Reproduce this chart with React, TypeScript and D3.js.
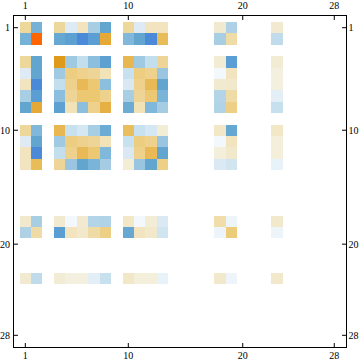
import React from "react";
import * as d3 from "d3";

// Active row/column indices of the 28x28 matrix
const indices = [1, 2, 4, 5, 6, 7, 8, 10, 11, 12, 13, 18, 19, 23];

// Matrix values (rows follow `indices`, columns follow `indices`)
const row1 = [0.4, -0.7, 0.4, -0.15, 0.25, -0.48, -0.8, 0.4, -0.15, 0.25, 0.25, 0.18, -0.44, 0.18];
const row2 = [-0.7, 1.0, -0.78, -0.83, -1.0, -0.85, 0.85, -0.65, -0.8, -1.0, 0.68, -0.48, 0.35, -0.32];
const row4 = [0.4, -0.8, 0.95, -0.52, -0.3, -0.6, -0.83, 0.72, -0.52, -0.3, 0.42, 0.16, -0.85, 0.16];
const row5 = [-0.15, -0.8, -0.52, 0.52, 0.47, 0.42, 0.27, -0.27, 0.52, 0.47, -0.55, -0.07, 0.25, 0.1];
const row6 = [0.25, -1.0, -0.3, 0.47, 0.7, 0.58, -0.6, -0.18, 0.47, 0.7, -0.8, 0.18, 0.2, 0.1];
const row7 = [-0.48, -0.85, -0.6, 0.42, 0.58, 0.58, 0.47, -0.48, 0.42, 0.58, -0.68, -0.4, 0.35, -0.13];
const row8 = [-0.8, 0.85, -0.83, 0.27, -0.6, 0.47, 0.78, -0.75, 0.27, -0.65, -0.5, -0.42, 0.5, -0.28];
const row10 = [0.4, -0.65, 0.72, -0.27, -0.2, -0.48, -0.75, 0.66, -0.27, -0.2, 0.15, 0.22, -0.78, 0.22];
const row11 = [-0.15, -0.8, -0.52, 0.52, 0.47, 0.42, 0.27, -0.27, 0.52, 0.47, -0.55, -0.07, 0.25, 0.12];
const row12 = [0.25, -1.0, -0.3, 0.47, 0.7, 0.58, -0.65, -0.18, 0.47, 0.7, -0.8, 0.12, 0.2, 0.12];
const row13 = [0.25, 0.68, 0.42, -0.55, -0.8, -0.68, -0.5, 0.15, -0.55, -0.8, 0.5, -0.17, -0.22, -0.11];
const row18 = [0.2, -0.48, 0.18, -0.07, 0.18, -0.4, -0.42, 0.22, -0.07, 0.15, -0.17, 0.33, -0.09, 0.2];
const row19 = [-0.44, 0.35, -0.85, 0.25, 0.2, 0.35, 0.5, -0.78, 0.25, 0.2, -0.22, -0.09, 0.55, -0.09];
const row23 = [0.18, -0.32, 0.16, 0.1, 0.1, -0.13, -0.28, 0.22, 0.12, 0.12, -0.11, 0.2, -0.09, 0.2];

const rows = [row1, row2, row4, row5, row6, row7, row8, row10, row11, row12, row13, row18, row19, row23];

const tickValues = [1, 10, 20, 28];

const colorStops = [-1, -0.85, -0.8, -0.65, -0.5, -0.3, -0.15, -0.07, 0, 0.1, 0.2, 0.3, 0.42, 0.5, 0.58, 0.7, 0.85, 0.95, 1];
const colorRange = [
  "#4a8ad8", "#5a9ed4", "#62a6d0", "#80b8db", "#a5cce3", "#c3deec", "#deebf5", "#f2f8fc", "#ffffff",
  "#f3f0df", "#f2e9cc", "#f0dfb0", "#eed597", "#edcf85", "#ecc872", "#e8b955", "#e6a836", "#e09a1a", "#ff6600",
];

export default function App() {
  const W = 360;
  const H = 363;
  const frame = { x0: 13.5, x1: 346.5, y0: 15.5, y1: 347.5 };
  const x = d3.scaleLinear().domain([0.5, 28.5]).range([19.6, 340.0]);
  const y = d3.scaleLinear().domain([0.5, 28.5]).range([22.0, 341.0]);
  const color = d3.scaleLinear<string>().domain(colorStops).range(colorRange).interpolate(d3.interpolateRgb);

  const cells: { r: number; c: number; v: number }[] = [];
  rows.forEach((vals, i) => {
    vals.forEach((v, j) => {
      if (v !== 0) cells.push({ r: indices[i], c: indices[j], v });
    });
  });

  const tl = 4.5;
  const font = "'Liberation Serif', 'Times New Roman', serif";

  return (
    <svg width={W} height={H} style={{ display: "block", position: "absolute", left: 0, top: 0 }}>
      <rect x={0} y={0} width={W} height={H} fill="#ffffff" />
      {cells.map((d, k) => (
        <rect
          key={k}
          x={x(d.c - 0.5)}
          y={y(d.r - 0.5)}
          width={x(d.c + 0.5) - x(d.c - 0.5)}
          height={y(d.r + 0.5) - y(d.r - 0.5)}
          fill={color(d.v)}
          shapeRendering="crispEdges"
        />
      ))}
      <rect
        x={frame.x0}
        y={frame.y0}
        width={frame.x1 - frame.x0}
        height={frame.y1 - frame.y0}
        fill="none"
        stroke="#000"
        strokeWidth={1}
      />
      {tickValues.map((t) => (
        <g key={"t" + t}>
          <line x1={x(t)} x2={x(t)} y1={frame.y0} y2={frame.y0 + tl} stroke="#000" />
          <line x1={x(t)} x2={x(t)} y1={frame.y1} y2={frame.y1 - tl} stroke="#000" />
          <line x1={frame.x0} x2={frame.x0 + tl} y1={y(t)} y2={y(t)} stroke="#000" />
          <line x1={frame.x1} x2={frame.x1 - tl} y1={y(t)} y2={y(t)} stroke="#000" />
          <text x={x(t)} y={9} fontSize={10} fontFamily={font} textAnchor="middle">{t}</text>
          <text x={x(t)} y={359} fontSize={10} fontFamily={font} textAnchor="middle">{t}</text>
          <text x={10} y={y(t) + 3.5} fontSize={10} fontFamily={font} textAnchor="end">{t}</text>
          <text x={348.5} y={y(t) + 3.5} fontSize={10} fontFamily={font} textAnchor="start">{t}</text>
        </g>
      ))}
    </svg>
  );
}
